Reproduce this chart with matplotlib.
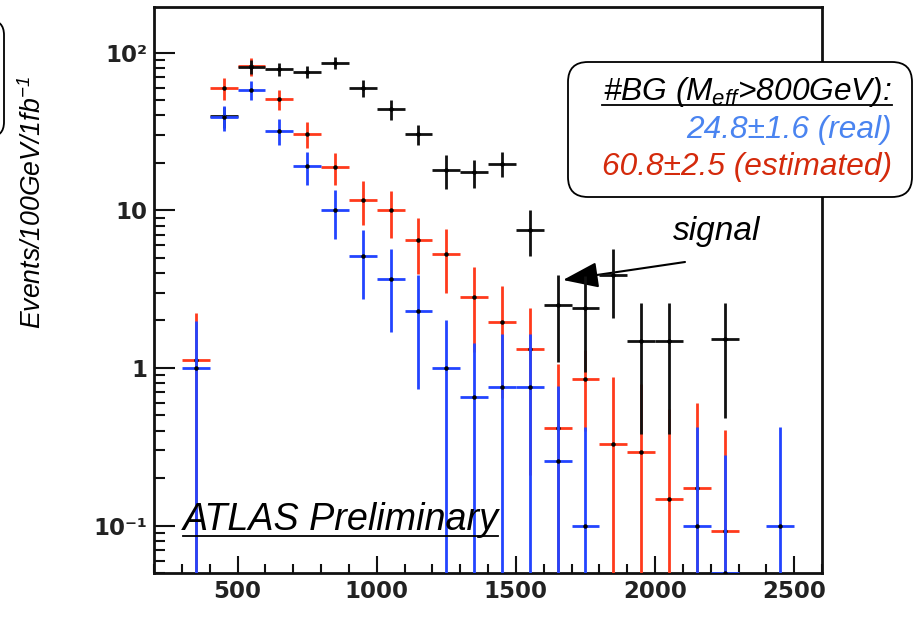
import numpy as np
import matplotlib
matplotlib.use("Agg")
import matplotlib.pyplot as plt
from matplotlib.patches import FancyBboxPatch
from matplotlib.lines import Line2D
from matplotlib.transforms import IdentityTransform
from matplotlib.ticker import FixedLocator, MultipleLocator, LogLocator, NullFormatter

plt.rcParams['font.family'] = ['Liberation Sans', 'DejaVu Sans']
plt.rcParams['mathtext.fontset'] = 'custom'
plt.rcParams['mathtext.rm'] = 'Liberation Sans:italic'
plt.rcParams['mathtext.it'] = 'Liberation Sans:italic'

# M_eff bin centres (100 GeV bins)
meff = [350, 450, 550, 650, 750, 850, 950, 1050, 1150, 1250, 1350,
        1450, 1550, 1650, 1750, 1850, 1950, 2050, 2150, 2250, 2350, 2450]

# signal + BG (black)
black_val = [np.nan, 39.4, 81.5, 78.9, 75.9, 86.4, 59.6, 43.8, 30.5, 18.1, 17.4,
             19.8, 7.55, 2.49, 2.39, 3.86, 1.48, 1.48, np.nan, 1.53, np.nan, np.nan]
black_err = [0, 6.0, 8.5, 7.5, 7.0, 8.0, 7.5, 6.5, 4.5, 4.4, 3.6,
             3.5, 2.45, 1.4, 1.45, 1.8, 1.1, 1.1, 0, 1.05, 0, 0]

# estimated BG (red)
red_val = [1.12, 59.6, 82.0, 50.9, 30.5, 18.8, 11.7, 10.0, 6.46, 5.30, 2.81,
           1.97, 1.31, 0.415, 0.847, 0.329, 0.291, 0.148, 0.173, 0.092, np.nan, np.nan]
red_err = [1.12, 9.5, 11.0, 7.3, 5.7, 4.3, 3.6, 3.35, 2.5, 2.3, 1.55,
           1.33, 1.1, 0.64, 0.45, 0.55, 0.5, 0.4, 0.43, 0.31, 0, 0]

# real BG (blue)
blue_val = [1.0, 39.0, 58.1, 31.9, 19.0, 10.0, 5.12, 3.68, 2.30, 1.0, 0.65,
            0.76, 0.76, 0.258, 0.099, np.nan, np.nan, np.nan, 0.099, 0.03, np.nan, 0.099]
blue_err = [0.98, 7.0, 8.0, 6.0, 4.6, 3.4, 2.4, 2.0, 1.57, 1.0, 0.8,
            0.87, 0.87, 0.51, 0.32, 0, 0, 0, 0.32, 0.25, 0, 0.32]

ymin, ymax = 0.05, 195

W, H = 914, 623
fig = plt.figure(figsize=(W / 100, H / 100), dpi=100)
ax = fig.add_axes([154 / W, (H - 573) / H, 668 / W, 566 / H])
ax.set_yscale('log')
ax.set_xlim(200, 2600)
ax.set_ylim(ymin, ymax)


def draw(vals, errs, color, z):
    x = np.array(meff, float)
    v = np.array(vals, float)
    e = np.array(errs, float)
    ok = ~np.isnan(v)
    x, v, e = x[ok], v[ok], e[ok]
    y = np.maximum(v, ymin)   # points below the range sit on the frame
    lo = np.clip(y - (v - e), 0, None)
    hi = (v + e) - y
    ax.errorbar(x, y, xerr=50, yerr=[lo, hi], fmt='o', color=color, ms=2.2,
                mfc='k', mec='k', elinewidth=2.0, capsize=0, zorder=z, clip_on=True)


draw(red_val, red_err, '#ff3a1c', 3)
draw(black_val, black_err, '#111111', 4)
draw(blue_val, blue_err, '#2244ff', 5)

for s in ax.spines.values():
    s.set_linewidth(2.0)
    s.set_color('#111111')

ax.xaxis.set_major_locator(FixedLocator([500, 1000, 1500, 2000, 2500]))
ax.xaxis.set_minor_locator(MultipleLocator(100))
ax.yaxis.set_major_locator(FixedLocator([0.1, 1, 10, 100]))
ax.yaxis.set_minor_locator(LogLocator(base=10, subs=np.arange(2, 10)))
ax.yaxis.set_minor_formatter(NullFormatter())
ax.set_yticklabels(['10⁻¹', '1', '10', '10²'])
ax.tick_params(which='both', direction='in', top=False, right=False, width=1.5, color='#111111')
ax.tick_params(axis='x', which='major', length=12, pad=5)
ax.tick_params(axis='x', which='minor', length=6.5)
ax.tick_params(axis='y', which='major', length=15, pad=5)
ax.tick_params(axis='y', which='minor', length=8)
for lab in ax.get_xticklabels() + ax.get_yticklabels():
    lab.set_family('DejaVu Sans')
    lab.set_fontweight('bold')
    lab.set_fontsize(16.5)
    lab.set_color('#222222')


def fx(x):
    return x / W


def fy(y):
    return 1 - y / H


# y axis title
fig.text(fx(33), fy(203), r'Events/100GeV/1fb$^{-1}$', rotation=90, style='italic',
         fontsize=19.2, ha='center', va='center')

# ATLAS label
fig.text(fx(183), fy(530), 'ATLAS Preliminary', style='italic', fontsize=27.2,
         ha='left', va='baseline')
fig.add_artist(Line2D([fx(183), fx(498)], [fy(536), fy(536)], color='k', lw=1.3))

# result box
fig.add_artist(FancyBboxPatch((568, H - 197), 344, 135, boxstyle='round,pad=0,rounding_size=20',
                              transform=IdentityTransform(), fc='white', ec='k', lw=1.3, zorder=5))
fig.text(fx(892), fy(100), r'#BG ($M_{eff}$>800GeV):', style='italic', fontsize=22.8,
         ha='right', va='baseline', zorder=6)
fig.add_artist(Line2D([fx(602), fx(892)], [fy(105), fy(105)], color='k', lw=1.3, zorder=6))
fig.text(fx(892), fy(138), '24.8±1.6 (real)', style='italic', fontsize=22.8, color='#4a84f0',
         ha='right', va='baseline', zorder=6)
fig.text(fx(892), fy(175), '60.8±2.5 (estimated)', style='italic', fontsize=22.8, color='#d42a0c',
         ha='right', va='baseline', zorder=6)

# cut-off box at the left edge
fig.add_artist(FancyBboxPatch((-40, H - 137), 44, 117, boxstyle='round,pad=0,rounding_size=15',
                              transform=IdentityTransform(), fc='none', ec='k', lw=1.3))

# signal arrow
fig.text(fx(673), fy(240), 'signal', style='italic', fontsize=24, ha='left', va='baseline')
ax.annotate('', xy=(563, H - 280), xytext=(685, H - 262), xycoords='figure pixels',
            textcoords='figure pixels', annotation_clip=False,
            arrowprops=dict(arrowstyle='-|>,head_length=1.1,head_width=0.4', lw=1.5,
                            color='k', mutation_scale=20, shrinkA=0, shrinkB=0))

fig.savefig('out.png', dpi=100)
